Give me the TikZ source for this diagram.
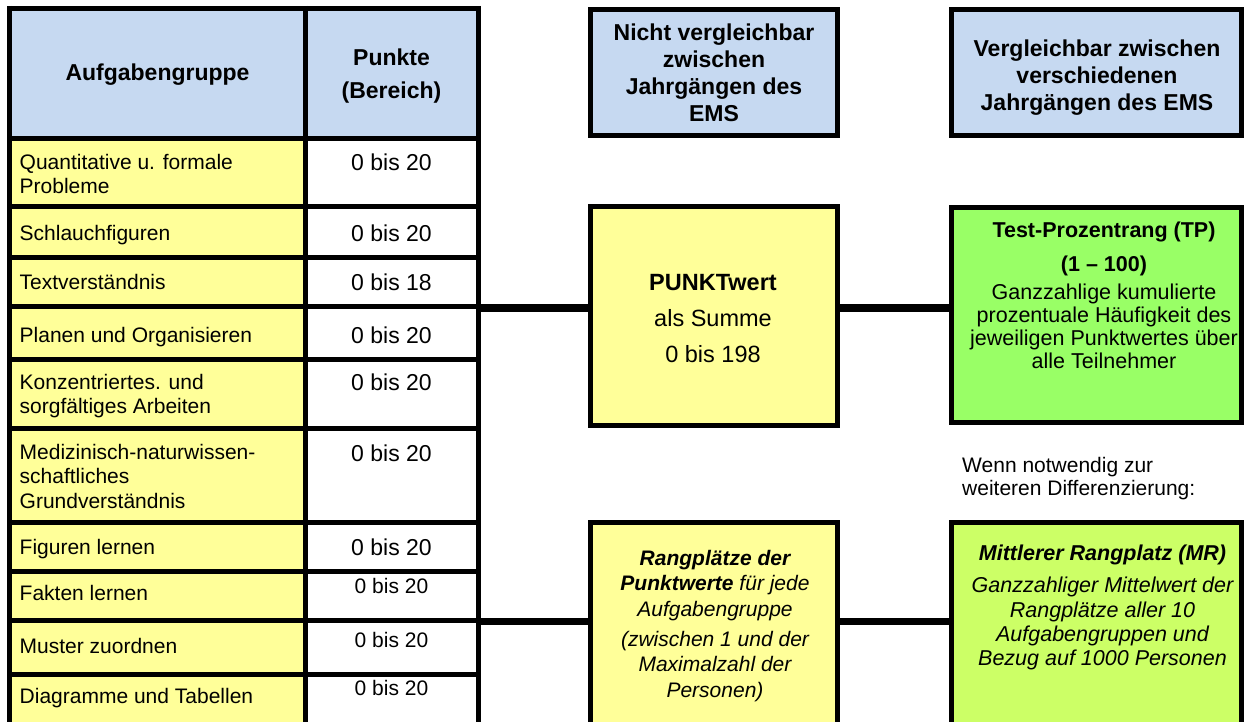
\documentclass[tikz,border=0pt]{standalone}
\usepackage{fontspec}
\setmainfont{Liberation Sans}
\definecolor{hblue}{RGB}{198,217,241}
\definecolor{cyel}{RGB}{255,255,153}
\definecolor{tpgreen}{RGB}{153,255,102}
\definecolor{mrgreen}{RGB}{204,255,102}
\tikzset{
  box/.style={draw=black, line width=5pt, rectangle, inner sep=0pt, outer sep=0pt},
  conn/.style={line width=7.5pt},
  gridline/.style={line width=5pt},
  rowtxt/.style={inner sep=0pt, align=left, font=\fontsize{21}{24.5}\selectfont},
  valtxt/.style={inner sep=0pt, anchor=base, font=\fontsize{23}{27}\selectfont},
  valsm/.style={inner sep=0pt, anchor=base, font=\fontsize{21}{24}\selectfont},
  hdtxt/.style={inner sep=0pt, align=center, font=\bfseries\fontsize{23}{27}\selectfont},
}
\begin{document}
\begin{tikzpicture}[x=1pt,y=-1pt]
\useasboundingbox (0,0) rectangle (1245,722);
\clip (0,0) rectangle (1245,722);
% ---- table fills
\fill[hblue] (9.5,8.5) rectangle (478,138.5);
\fill[cyel] (9.5,138.5) rectangle (305,760);
% ---- table grid
\foreach \yy in {8.5,138.5,207,257,306,359.5,428.5,522.5,571.5,620.5,674.5}
  \draw[gridline] (7,\yy) -- (480.5,\yy);
\foreach \xx in {9.5,305,478}
  \draw[gridline] (\xx,6) -- (\xx,760);
% ---- table header
\node[hdtxt, anchor=base] (hA) at (157.5,81) {Aufgabengruppe};
\node[hdtxt, anchor=north, font=\bfseries\fontsize{23}{33}\selectfont] (hB) at (391.5,49) {Punkte\\(Bereich)};
% ---- rows, left column
\node[rowtxt, anchor=north west] (r1) at (19.5,154) {Quantitative u. formale\\Probleme};
\node[rowtxt, anchor=base west] (r2) at (19.5,240.5) {Schlauchfiguren};
\node[rowtxt, anchor=base west] (r3) at (19.5,289.5) {Textverständnis};
\node[rowtxt, anchor=base west] (r4) at (19.5,342.5) {Planen und Organisieren};
\node[rowtxt, anchor=north west] (r5) at (19.5,374) {Konzentriertes. und\\sorgfältiges Arbeiten};
\node[rowtxt, anchor=north west] (r6) at (19.5,444) {Medizinisch-naturwissen-\\schaftliches\\Grundverständnis};
\node[rowtxt, anchor=base west] (r7) at (19.5,554.5) {Figuren lernen};
\node[rowtxt, anchor=base west] (r8) at (19.5,600.5) {Fakten lernen};
\node[rowtxt, anchor=base west] (r9) at (19.5,653.5) {Muster zuordnen};
\node[rowtxt, anchor=base west] (r10) at (19.5,703.5) {Diagramme und Tabellen};
% ---- rows, right column
\node[valtxt] (v1) at (391.5,171) {0 bis 20};
\node[valtxt] (v2) at (391.5,241) {0 bis 20};
\node[valtxt] (v3) at (391.5,290) {0 bis 18};
\node[valtxt] (v4) at (391.5,343) {0 bis 20};
\node[valtxt] (v5) at (391.5,390) {0 bis 20};
\node[valtxt] (v6) at (391.5,461) {0 bis 20};
\node[valtxt] (v7) at (391.5,555) {0 bis 20};
\node[valsm] (v8) at (391.5,593.5) {0 bis 20};
\node[valsm] (v9) at (391.5,647.5) {0 bis 20};
\node[valsm] (v10) at (391.5,695.5) {0 bis 20};
% ---- connector end points on the table
\coordinate (tA) at (480.5,308);
\coordinate (tB) at (480.5,621.5);
% ---- boxes
\node[box, fill=hblue, minimum width=247, minimum height=126] (nicht) at (714,72.5) {};
\node[box, fill=hblue, minimum width=290, minimum height=126] (verg) at (1096.5,72.5) {};
\node[box, fill=cyel, minimum width=246.5, minimum height=218.5] (punkt) at (713.75,316.25) {};
\node[box, fill=tpgreen, minimum width=290, minimum height=215] (tp) at (1096.5,315) {};
\node[box, fill=cyel, minimum width=247, minimum height=280] (rang) at (714,662.5) {};
\node[box, fill=mrgreen, minimum width=290, minimum height=280] (mr) at (1096.5,662.5) {};
% ---- connectors
\draw[conn] (tA) -- (tA -| punkt.west);
\draw[conn] (punkt.east |- tA) -- (tA -| tp.west);
\draw[conn] (tB) -- (tB -| rang.west);
\draw[conn] (rang.east |- tB) -- (tB -| mr.west);
% ---- box texts
\node[hdtxt, anchor=north] (nichtT) at (714,23.5) {Nicht vergleichbar\\zwischen\\Jahrgängen des\\EMS};
\node[hdtxt, anchor=north] (vergT) at (1097,39.5) {Vergleichbar zwischen\\verschiedenen\\Jahrgängen des EMS};
\node[inner sep=0pt, align=center, anchor=north, font=\fontsize{23.5}{36}\selectfont] (punktT) at (713,274)
  {\textbf{PUNKTwert}\\als Summe\\0 bis 198};
\node[inner sep=0pt, align=center, anchor=north, font=\fontsize{21.5}{23}\selectfont] (tpT) at (1104,222)
  {\textbf{Test-Prozentrang (TP)}\\[11pt]\textbf{(1 – 100)}\\[4.5pt]Ganzzahlige kumulierte\\prozentuale Häufigkeit des\\jeweiligen Punktwertes über\\alle Teilnehmer};
\node[inner sep=0pt, align=left, anchor=north west, font=\fontsize{21}{23}\selectfont] (wenn) at (962,457)
  {Wenn notwendig zur\\weiteren Differenzierung:};
\node[inner sep=0pt, align=center, anchor=north, font=\itshape\fontsize{21}{25.5}\selectfont] (rangT) at (715,550)
  {\textbf{Rangplätze der}\\\textbf{Punktwerte} für jede\\Aufgabengruppe\\[4.5pt](zwischen 1 und der\\Maximalzahl der\\Personen)};
\node[inner sep=0pt, align=center, anchor=north, font=\itshape\fontsize{21.5}{24.3}\selectfont] (mrT) at (1102.5,545)
  {\textbf{Mittlerer Rangplatz (MR)}\\[7.7pt]Ganzzahliger Mittelwert der\\Rangplätze aller 10\\Aufgabengruppen und\\Bezug auf 1000 Personen};
\end{tikzpicture}
\end{document}
